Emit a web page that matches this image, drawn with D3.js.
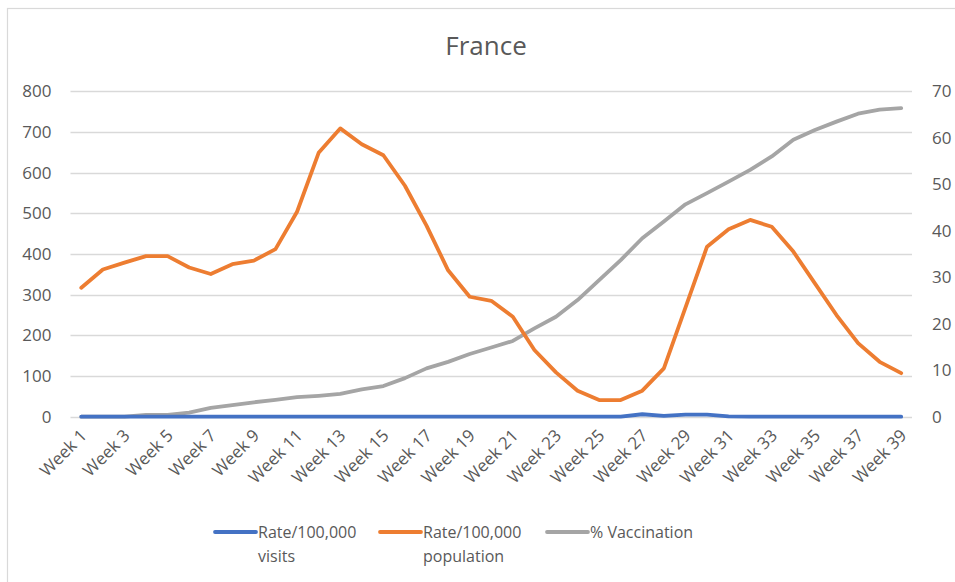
<!DOCTYPE html>
<html><head><meta charset="utf-8">
<script src="https://cdn.jsdelivr.net/npm/d3@7"></script>
<style>
body{margin:0;background:#fff;}
text{font-family:"Open Sans",sans-serif;fill:#595959;}
</style></head>
<body><svg id="c" width="955" height="582"></svg>
<script>
const weeks = d3.range(1, 40).map(i => "Week " + i);
const tickWeeks = d3.range(1, 40, 2).map(i => "Week " + i);
const visits = [0,0,0,0,0,0,0,0,0,0,0,0,0,0,0,0,0,0,0,0,0,0,0,0,0,0,6,2,5,5,1,0,0,0,0,0,0,0,0];
const population = [317,362,379,395,395,367,351,375,384,412,504,649,709,670,643,568,470,360,295,285,246,164,109,64,41,41,64,119,268,418,461,484,467,406,328,250,181,135,107];
const vaccination = [0,0,0,0.4,0.4,0.9,1.9,2.5,3.1,3.6,4.2,4.5,4.9,5.9,6.6,8.3,10.4,11.8,13.5,14.9,16.3,19.0,21.5,25.1,29.4,33.7,38.4,42.0,45.7,48.1,50.6,53.1,56.0,59.6,61.7,63.5,65.2,66.1,66.4];
const leftTicks = [0,100,200,300,400,500,600,700,800];
const rightTicks = [0,10,20,30,40,50,60,70];
const seriesNames = [["Rate/100,000","visits"],["Rate/100,000","population"],["% Vaccination"]];
const colors = ["#4472C4","#ED7D31","#A5A5A5"];

const svg = d3.select("#c");
svg.append("rect").attr("x",7.5).attr("y",8.5).attr("width",960).attr("height",600)
  .attr("fill","#fff").attr("stroke","#d9d9d9").attr("stroke-width",1.2);

const L = 70.5, R = 912, T = 91.4, B = 416.7;
const x = d3.scalePoint().domain(weeks).range([L, R]).padding(0.5);
const yL = d3.scaleLinear().domain([0,800]).range([B, T]);
const yR = d3.scaleLinear().domain([0,70]).range([B, T]);

svg.append("text").attr("x",486).attr("y",55).attr("text-anchor","middle")
  .style("font-size","26px").text("France");

// gridlines
svg.append("g").selectAll("line").data(leftTicks).join("line")
  .attr("x1",L).attr("x2",R).attr("y1",d=>Math.round(yL(d))+0.5).attr("y2",d=>Math.round(yL(d))+0.5)
  .attr("stroke","#d9d9d9").attr("stroke-width",1.3);

const fnt = "'Open Sans',sans-serif";
// left axis
const ga = svg.append("g").attr("transform",`translate(${L},0)`)
  .call(d3.axisLeft(yL).tickValues(leftTicks).tickSize(0).tickPadding(19));
ga.select(".domain").remove();
ga.selectAll("text").style("font-size","17px").attr("fill","#595959").style("font-family",fnt);

const gr = svg.append("g").attr("transform",`translate(${R},0)`)
  .call(d3.axisRight(yR).tickValues(rightTicks).tickSize(0).tickPadding(20));
gr.select(".domain").remove();
gr.selectAll("text").style("font-size","17px").attr("fill","#595959").style("font-family",fnt);

// x labels
const gx = svg.append("g").attr("transform",`translate(0,${B})`)
  .call(d3.axisBottom(x).tickValues(tickWeeks).tickSize(0));
gx.select(".domain").remove();
gx.selectAll("text").style("font-size","17px").attr("fill","#595959").style("font-family",fnt)
  .attr("text-anchor","end").attr("dy",null).attr("y",0)
  .attr("transform","translate(6,20) rotate(-45)");

const line = yS => d3.line().x((d,i)=>x(weeks[i])).y(d=>yS(d));
const data = [[visits,yL],[population,yL],[vaccination,yR]];
const order = [2,1,0];
order.forEach(k => {
  svg.append("path").datum(data[k][0]).attr("d", line(data[k][1]))
    .attr("fill","none").attr("stroke",colors[k]).attr("stroke-width",3.8)
    .attr("stroke-linejoin","round").attr("stroke-linecap","round");
});

// legend
const lx = [215, 380, 547];
seriesNames.forEach((n,i) => {
  svg.append("line").attr("x1",lx[i]).attr("x2",lx[i]+41).attr("y1",532).attr("y2",532)
    .attr("stroke",colors[i]).attr("stroke-width",3.8).attr("stroke-linecap","round");
  const t = svg.append("text").attr("x",lx[i]+43).attr("y",538).style("font-size","16px");
  n.forEach((s,j) => t.append("tspan").attr("x",lx[i]+43).attr("dy", j===0?0:24).text(s));
});
</script></body></html>
